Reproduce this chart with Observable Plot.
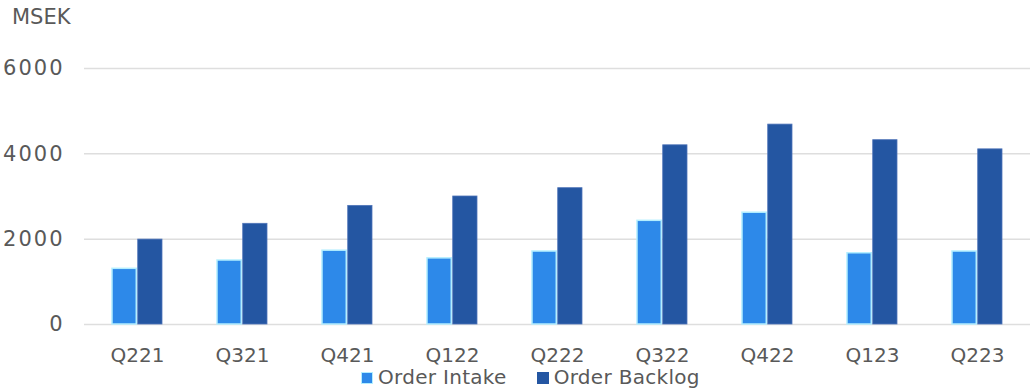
<!DOCTYPE html>
<html>
<head>
<meta charset="utf-8">
<script src="https://cdn.jsdelivr.net/npm/d3@7"></script>
<script src="https://cdn.jsdelivr.net/npm/@observablehq/plot@0.6"></script>
<style>
  html, body { margin: 0; padding: 0; background: #fff; }
  body { width: 1033px; height: 389px; overflow: hidden; font-family: "DejaVu Sans", sans-serif; color: #595959; }
  #title { box-sizing: border-box; height: 40px; padding: 7px 0 0 12px; font-size: 21px; line-height: 21px; }
  #chart svg { display: block; }
  #chart svg g[aria-label="y-axis tick label"] text { letter-spacing: 2px; font-size: 21px; }
  #legend { box-sizing: border-box; height: 23px; padding: 1px 0 0 361px; font-size: 20px; line-height: 20px; display: flex; align-items: baseline; white-space: nowrap; letter-spacing: 0.3px; }
  .item { display: inline-flex; align-items: baseline; }
  .sw { display: inline-block; width: 12px; height: 12px; box-sizing: border-box; margin-right: 5px; }
</style>
</head>
<body>
<div id="title">MSEK</div>
<div id="chart"></div>
<div id="legend"></div>
<script>
const categories = ["Q221", "Q321", "Q421", "Q122", "Q222", "Q322", "Q422", "Q123", "Q223"];
const orderIntake = [1305, 1500, 1730, 1550, 1710, 2430, 2620, 1670, 1710];
const orderBacklog = [1990, 2360, 2780, 3000, 3195, 4200, 4685, 4320, 4105];
const yTicks = [0, 2000, 4000, 6000];
const seriesNames = ["Order Intake", "Order Backlog"];

const colors = { intake: "#2d89e9", intakeStroke: "#b3eeff", backlog: "#2456a2", backlogStroke: "#4f74b8" };

const W = 1033, H = 326, ML = 84, MR = 3, MT = 28, MB = 42;
const pInner = 0.52, pOuter = 0.26;
const step = (W - ML - MR) / (categories.length - pInner + 2 * pOuter);
const half = step * (1 - pInner) / 2;

const intakeData = categories.map((q, i) => ({ q, v: orderIntake[i] }));
const backlogData = categories.map((q, i) => ({ q, v: orderBacklog[i] }));

const chart = Plot.plot({
  width: W,
  height: H,
  marginLeft: ML,
  marginRight: MR,
  marginTop: MT,
  marginBottom: MB,
  style: { fontFamily: "DejaVu Sans, sans-serif", fontSize: "20px", color: "#595959", background: "#fff" },
  x: { domain: categories, paddingInner: pInner, paddingOuter: pOuter, tickSize: 0, tickPadding: 23, label: null },
  y: { domain: [0, 6000], ticks: yTicks, tickSize: 0, tickPadding: 20, label: null, tickFormat: d => String(d) },
  marks: [
    Plot.ruleY(yTicks, { stroke: "#dedede", strokeWidth: 1.5 }),
    Plot.barY(intakeData, { x: "q", y: "v", fill: colors.intake, stroke: colors.intakeStroke, strokeWidth: 1.5, insetRight: half + 0.5 }),
    Plot.barY(backlogData, { x: "q", y: "v", fill: colors.backlog, stroke: colors.backlogStroke, strokeWidth: 0.8, insetLeft: half + 0.5 })
  ]
});
document.getElementById("chart").appendChild(chart);

const legend = document.getElementById("legend");
const swatches = [
  { fill: colors.intake, stroke: colors.intakeStroke },
  { fill: colors.backlog, stroke: colors.backlog }
];
seriesNames.forEach((name, i) => {
  const item = document.createElement("span");
  item.className = "item";
  if (i > 0) item.style.marginLeft = "30px";
  const sw = document.createElement("span");
  sw.className = "sw";
  sw.style.background = swatches[i].fill;
  sw.style.border = "1.5px solid " + swatches[i].stroke;
  const t = document.createElement("span");
  t.textContent = name;
  item.appendChild(sw);
  item.appendChild(t);
  legend.appendChild(item);
});
</script>
</body>
</html>
